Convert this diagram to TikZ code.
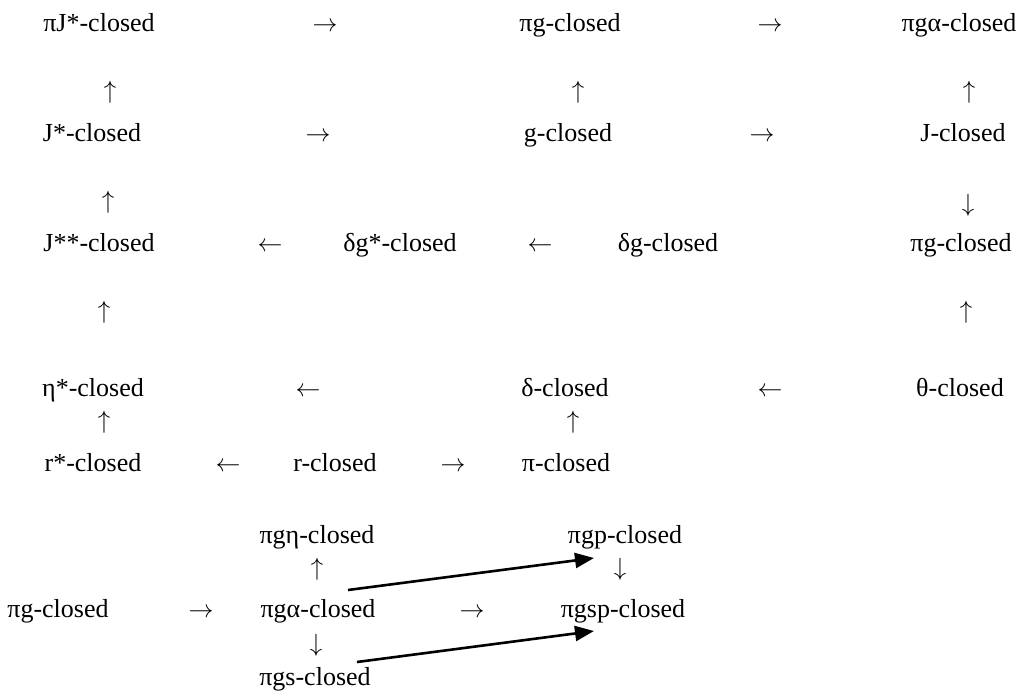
\documentclass[tikz,border=0pt]{standalone}
\usepackage{fontspec}
\setmainfont{Liberation Serif}
\usetikzlibrary{arrows.meta}
\begin{document}
\begin{tikzpicture}[x=1pt,y=-1pt,
  lbl/.style={inner sep=0pt, anchor=base, font=\fontsize{26}{30}\selectfont},
  vglyph/.style={inner sep=0pt, anchor=center, font=\fontsize{26}{30}\selectfont},
  implies/.style={line width=2.6pt, -{Triangle[length=19pt,width=15pt]}}]
\useasboundingbox (0,0) rectangle (1020,694);

% row 1
\node[lbl] (piJs)  at (99,31)  {πJ*-closed};
\node[lbl] (h11)   at (325,31) {$\rightarrow$};
\node[lbl] (pig1)  at (570,31) {πg-closed};
\node[lbl] (h12)   at (770,31) {$\rightarrow$};
\node[lbl] (piga1) at (959,31) {πgα-closed};
% row 2
\node[vglyph] (v21) at (110,92) {$\uparrow$};
\node[vglyph] (v22) at (578,92) {$\uparrow$};
\node[vglyph] (v23) at (969,92) {$\uparrow$};
% row 3
\node[lbl] (Js)   at (92,141)  {J*-closed};
\node[lbl] (h31)  at (318,141) {$\rightarrow$};
\node[lbl] (g)    at (568,141) {g-closed};
\node[lbl] (h32)  at (762,141) {$\rightarrow$};
\node[lbl] (J)    at (963,141) {J-closed};
% row 4
\node[vglyph] (v41) at (108,202) {$\uparrow$};
\node[vglyph] (v42) at (968,205) {$\downarrow$};
% row 5
\node[lbl] (Jss)  at (99,251)  {J**-closed};
\node[lbl] (h51)  at (270,251) {$\leftarrow$};
\node[lbl] (dgs)  at (400,251) {δg*-closed};
\node[lbl] (h52)  at (540,251) {$\leftarrow$};
\node[lbl] (dg)   at (668,251) {δg-closed};
\node[lbl] (pig2) at (961,251) {πg-closed};
% row 6
\node[vglyph] (v61) at (104,312) {$\uparrow$};
\node[vglyph] (v62) at (966,312) {$\uparrow$};
% row 7
\node[lbl] (etas) at (93,396)  {η*-closed};
\node[lbl] (h71)  at (308,396) {$\leftarrow$};
\node[lbl] (d)    at (565,396) {δ-closed};
\node[lbl] (h72)  at (770,396) {$\leftarrow$};
\node[lbl] (th)   at (960,396) {θ-closed};
% row 8
\node[vglyph] (v81) at (104,422) {$\uparrow$};
\node[vglyph] (v82) at (573,422) {$\uparrow$};
% row 9
\node[lbl] (rs)   at (93,471)  {r*-closed};
\node[lbl] (h91)  at (228,471) {$\leftarrow$};
\node[lbl] (r)    at (335,471) {r-closed};
\node[lbl] (h92)  at (453,471) {$\rightarrow$};
\node[lbl] (pi)   at (566,471) {π-closed};
% lower block
\node[lbl] (pigeta) at (317,543) {πgη-closed};
\node[lbl] (pigp)   at (625,543) {πgp-closed};
\node[vglyph] (v111) at (317,569) {$\uparrow$};
\node[vglyph] (v112) at (620,569) {$\downarrow$};
\node[lbl] (pig3)   at (58,617)  {πg-closed};
\node[lbl] (h121)   at (201,617) {$\rightarrow$};
\node[lbl] (piga2)  at (318,617) {πgα-closed};
\node[lbl] (h122)   at (472,617) {$\rightarrow$};
\node[lbl] (pigsp)  at (623,617) {πgsp-closed};
\node[vglyph] (v131) at (316,645) {$\downarrow$};
\node[lbl] (pigs)   at (315,685) {πgs-closed};

% the two drawn implications
\coordinate (s1) at (348,590);
\coordinate (e1) at (594,558);
\coordinate (s2) at (357,662);
\coordinate (e2) at (594,631);
\draw[implies] (s1) -- (e1);
\draw[implies] (s2) -- (e2);
\end{tikzpicture}
\end{document}
